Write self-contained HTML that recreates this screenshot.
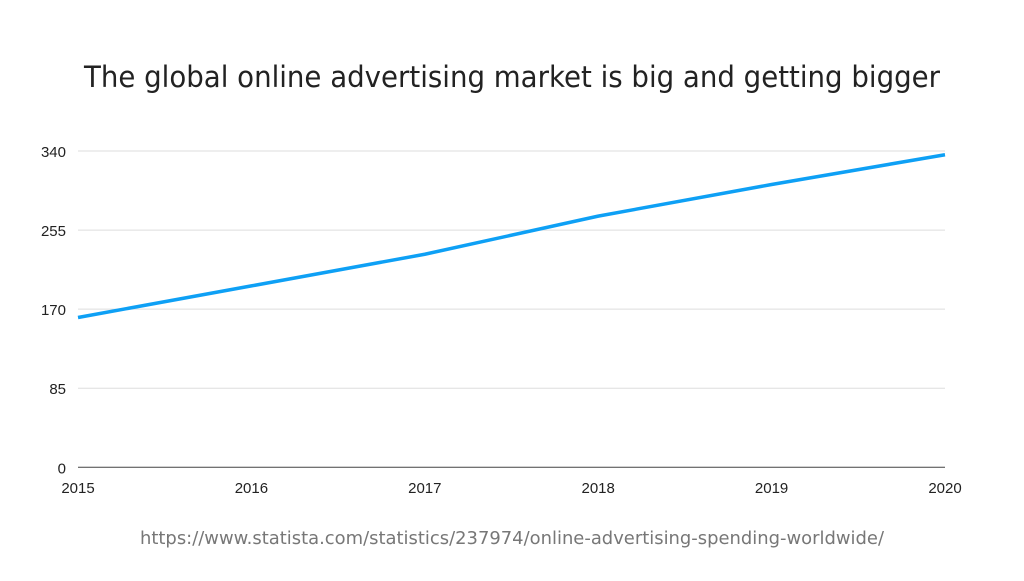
<!DOCTYPE html>
<html><head><meta charset="utf-8"><style>
body{margin:0;width:1024px;height:576px;background:#fff;overflow:hidden;font-family:"Liberation Sans",sans-serif}
</style></head><body>
<svg width="1024" height="576">
<text x="512" y="87" text-anchor="middle" font-size="29" fill="#222" font-family="DejaVu Sans, Liberation Sans, sans-serif" font-weight="normal" textLength="856" lengthAdjust="spacingAndGlyphs">The global online advertising market is big and getting bigger</text>
<g id="grid"></g><g id="axes"></g>
<path id="line" fill="none" stroke="#0ea0f5" stroke-width="3.5" stroke-linejoin="round"/>
<text x="512" y="544" text-anchor="middle" font-size="18" fill="#777" font-family="DejaVu Sans, Liberation Sans, sans-serif" textLength="744" lengthAdjust="spacingAndGlyphs">https://www.statista.com/statistics/237974/online-advertising-spending-worldwide/</text>
</svg>
<script>
const years=["2015","2016","2017","2018","2019","2020"];
const spending=[161,195,229,270,304,336];
const yTicks=[0,85,170,255,340];
const x0=78,x1=945,yb=467.3,yt=151;
const xs=i=>x0+(x1-x0)*i/(years.length-1);
const ys=v=>yb-(yb-yt)*v/340;
const ns="http://www.w3.org/2000/svg";
const g=document.getElementById('grid'),a=document.getElementById('axes');
yTicks.forEach(t=>{
 const l=document.createElementNS(ns,'line');
 
 
 l.setAttribute('x1',x0);l.setAttribute('x2',x1);l.setAttribute('y1',ys(t));l.setAttribute('y2',ys(t));
 l.setAttribute('stroke',t===0?'#444':'#ddd');l.setAttribute('stroke-width',1);
 (t===0?a:g).appendChild(l);
 const tx=document.createElementNS(ns,'text');
 
 
 tx.setAttribute('x',66);tx.setAttribute('y',ys(t)+6);tx.setAttribute('text-anchor','end');
 tx.setAttribute('font-size','15');tx.setAttribute('fill','#222');tx.textContent=t;a.appendChild(tx);
});
years.forEach((y,i)=>{
 const tx=document.createElementNS(ns,'text');
 
 
 tx.setAttribute('x',xs(i));tx.setAttribute('y',493);tx.setAttribute('text-anchor','middle');
 tx.setAttribute('font-size','15');tx.setAttribute('fill','#222');tx.textContent=y;a.appendChild(tx);
});
document.getElementById('line').setAttribute('d',spending.map((v,i)=>(i?'L':'M')+xs(i)+','+ys(v)).join(''));
</script>
</body></html>
